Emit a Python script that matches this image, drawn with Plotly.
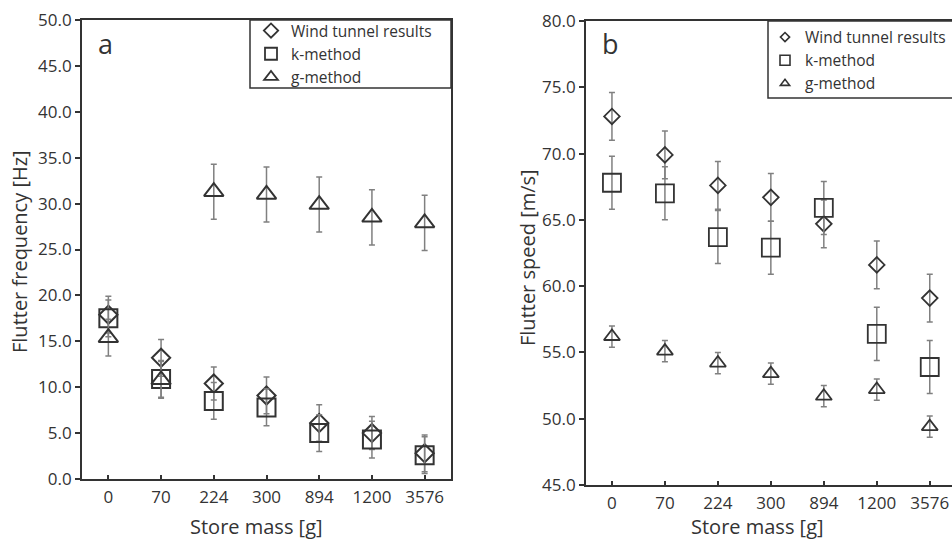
import plotly.graph_objects as go

# ---- data ----
categories = ["0", "70", "224", "300", "894", "1200", "3576"]

freq_wind = [17.9, 13.2, 10.4, 9.1, 6.1, 5.0, 2.8]
freq_wind_err = [2.0, 2.0, 1.8, 2.0, 2.0, 1.8, 2.0]
freq_k = [17.5, 10.9, 8.5, 7.8, 5.0, 4.3, 2.6]
freq_k_err = [2.0, 2.0, 2.0, 2.0, 2.0, 2.0, 2.0]
freq_g = [15.4, 10.8, 31.3, 31.0, 29.9, 28.5, 27.9]
freq_g_err = [2.0, 2.0, 3.0, 3.0, 3.0, 3.0, 3.0]

speed_wind = [72.8, 69.9, 67.6, 66.7, 64.7, 61.6, 59.1]
speed_wind_err = [1.8, 1.8, 1.8, 1.8, 1.8, 1.8, 1.8]
speed_k = [67.8, 67.0, 63.7, 62.9, 65.9, 56.4, 53.9]
speed_k_err = [2.0, 2.0, 2.0, 2.0, 2.0, 2.0, 2.0]
speed_g = [56.2, 55.1, 54.2, 53.4, 51.7, 52.2, 49.4]
speed_g_err = [0.8, 0.8, 0.8, 0.8, 0.8, 0.8, 0.8]

series_names = ["Wind tunnel results", "k-method", "g-method"]
symbols = ["diamond-open", "square-open", "triangle-up-open"]

FONT = "Open Sans"
DARK = "#333333"
ERRC = "#808080"

fig = go.Figure()

def add_series(x, y, err, sym, size, xa, ya, lw=2.0):
    fig.add_trace(go.Scatter(
        x=x, y=y, mode="markers", xaxis=xa, yaxis=ya, showlegend=False,
        marker=dict(symbol=sym, size=size, color=DARK, line=dict(color=DARK, width=lw)),
        error_y=dict(type="data", array=err, visible=True, color=ERRC, thickness=1.5, width=3),
        hoverinfo="x+y",
    ))

# Left panel (a)
left_sizes = [14, 18, 17]
for y, e, sym, s in zip([freq_wind, freq_k, freq_g], [freq_wind_err, freq_k_err, freq_g_err], symbols, left_sizes):
    add_series(categories, y, e, sym, s, "x", "y")

# Right panel (b)
right_sizes = [12, 18, 14]
for y, e, sym, s in zip([speed_wind, speed_k, speed_g], [speed_wind_err, speed_k_err, speed_g_err], symbols, right_sizes):
    add_series(categories, y, e, sym, s, "x2", "y2", lw=1.8)

# Legend entries
leg1_sizes = [11, 12, 12]
leg2_sizes = [7, 10, 8]
for name, sym, s in zip(series_names, symbols, leg1_sizes):
    fig.add_trace(go.Scatter(x=[None], y=[None], mode="markers", name=name, legend="legend",
                             xaxis="x", yaxis="y",
                             marker=dict(symbol=sym, size=s, color=DARK, line=dict(color=DARK, width=1.8))))
for name, sym, s in zip(series_names, symbols, leg2_sizes):
    fig.add_trace(go.Scatter(x=[None], y=[None], mode="markers", name=name, legend="legend2",
                             xaxis="x2", yaxis="y2",
                             marker=dict(symbol=sym, size=s, color=DARK, line=dict(color=DARK, width=1.6))))

W, H = 952, 541
def px(x): return x / W
def py(y): return 1 - y / H

axis_common = dict(showline=True, linecolor=DARK, linewidth=1.8, showgrid=False, zeroline=False,
                   tickfont=dict(family=FONT, size=17, color=DARK), tickcolor=DARK)

def ann(text, x, y, size, angle=0):
    return dict(text=text, x=px(x), y=py(y), xref="paper", yref="paper", showarrow=False,
                xanchor="center", yanchor="middle", textangle=angle,
                font=dict(family=FONT, size=size, color=DARK))

fig.update_layout(
    width=W, height=H, template="none",
    margin=dict(l=0, r=0, t=0, b=0),
    paper_bgcolor="white", plot_bgcolor="white",
    font=dict(family=FONT, color=DARK),
    xaxis=dict(domain=[px(82), px(451)], type="category", range=[-0.5, 6.5], mirror=True,
               ticks="inside", ticklen=4, tickwidth=1.5, anchor="y", ticklabelstandoff=2, **axis_common),
    yaxis=dict(domain=[py(479), py(20)], range=[0, 50], dtick=5, tickformat=".1f", mirror=True,
               ticks="outside", ticklen=5, tickwidth=1.5, anchor="x", **axis_common),
    xaxis2=dict(domain=[px(586), 1.0], type="category", range=[-0.49, 6.42], mirror=True,
                ticks="inside", ticklen=4, tickwidth=1.5, anchor="y2", ticklabelstandoff=2, **axis_common),
    yaxis2=dict(domain=[py(485), py(21)], range=[45, 80], dtick=5, tickformat=".1f", mirror=False,
                ticks="outside", ticklen=5, tickwidth=1.5, anchor="x2", **axis_common),
    legend=dict(x=px(251), y=py(14), xanchor="left", yanchor="top", bgcolor="rgba(0,0,0,0)",
                borderwidth=0, font=dict(family=FONT, size=15.5, color=DARK), tracegroupgap=0),
    legend2=dict(x=px(765), y=py(20.5), xanchor="left", yanchor="top", bgcolor="rgba(0,0,0,0)",
                 borderwidth=0, font=dict(family=FONT, size=15.5, color=DARK), tracegroupgap=0),
    shapes=[
        dict(type="rect", xref="paper", yref="paper", x0=px(250), x1=px(451), y0=py(88), y1=py(20),
             line=dict(color=DARK, width=1.5), fillcolor="white", layer="above"),
        dict(type="rect", xref="paper", yref="paper", x0=px(768), x1=px(960), y0=py(98), y1=py(21),
             line=dict(color=DARK, width=1.5), fillcolor="white", layer="above"),
    ],
    annotations=[
        ann("a", 105, 43, 27),
        ann("b", 610, 43, 27),
        ann("Flutter frequency [Hz]", 19, 252, 20, -90),
        ann("Flutter speed [m/s]", 527, 258, 20, -90),
        ann("Store mass [g]", 256, 526, 20),
        ann("Store mass [g]", 757, 526, 20),
    ],
)

fig.write_html("out.html")
